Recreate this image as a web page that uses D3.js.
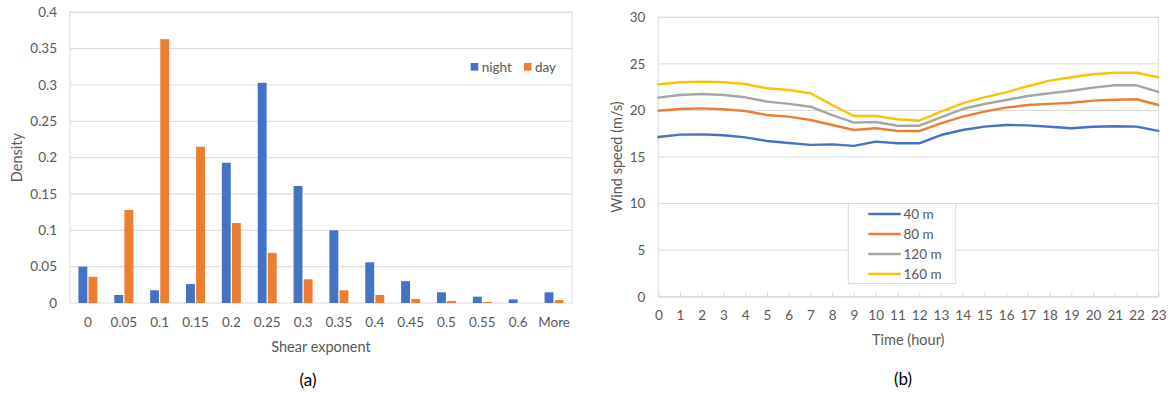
<!DOCTYPE html>
<html>
<head>
<meta charset="utf-8">
<script src="https://cdn.jsdelivr.net/npm/d3@7"></script>
<style>
  html, body { margin: 0; padding: 0; background: #fff; }
  svg { display: block; }
  text { font-family: Lato, "Open Sans", sans-serif; fill: #595959; }
</style>
</head>
<body>
<svg id="chart" width="1174" height="398"></svg>
<script>
// ---- (a) shear exponent histogram ----
const shearBins = ["0", "0.05", "0.1", "0.15", "0.2", "0.25", "0.3", "0.35", "0.4", "0.45", "0.5", "0.55", "0.6", "More"];
const nightDensity = [0.050, 0.011, 0.0175, 0.026, 0.193, 0.303, 0.161, 0.100, 0.056, 0.030, 0.0147, 0.0087, 0.005, 0.0147];
const dayDensity   = [0.036, 0.128, 0.363, 0.215, 0.110, 0.069, 0.0326, 0.0175, 0.011, 0.0055, 0.0028, 0.0014, 0, 0.004];
const densityTicks = [0, 0.05, 0.1, 0.15, 0.2, 0.25, 0.3, 0.35, 0.4];
const densityTickLabels = ["0", "0.05", "0.1", "0.15", "0.2", "0.25", "0.3", "0.35", "0.4"];
const periodNames = ["night", "day"];

// ---- (b) diurnal wind speed profile ----
const hours = d3.range(0, 24);
const heights = ["40 m", "80 m", "120 m", "160 m"];
const speed40  = [17.15, 17.40, 17.43, 17.33, 17.11, 16.72, 16.50, 16.30, 16.36, 16.20, 16.65, 16.47, 16.47, 17.36, 17.90, 18.26, 18.44, 18.40, 18.25, 18.08, 18.25, 18.30, 18.26, 17.80];
const speed80  = [19.97, 20.15, 20.22, 20.12, 19.94, 19.51, 19.33, 18.97, 18.44, 17.90, 18.08, 17.79, 17.79, 18.60, 19.33, 19.87, 20.30, 20.58, 20.70, 20.83, 21.05, 21.15, 21.20, 20.58];
const speed120 = [21.37, 21.66, 21.77, 21.66, 21.41, 20.94, 20.70, 20.40, 19.50, 18.69, 18.76, 18.36, 18.36, 19.26, 20.15, 20.69, 21.12, 21.55, 21.85, 22.12, 22.45, 22.70, 22.70, 22.00];
const speed160 = [22.80, 23.02, 23.09, 23.02, 22.84, 22.38, 22.20, 21.84, 20.58, 19.40, 19.40, 19.05, 18.90, 19.87, 20.76, 21.40, 21.94, 22.60, 23.20, 23.56, 23.88, 24.05, 24.05, 23.56];
const speedTicks = [0, 5, 10, 15, 20, 25, 30];

const svg = d3.select("#chart");
const gridColor = "#d9d9d9";
const barColors = { night: "#4472C4", day: "#ED7D31" };
const lineColors = ["#4472C4", "#ED7D31", "#A5A5A5", "#FFC000"];

// ================= panel (a) =================
{
  const left = 70, right = 572, top = 12.3, bottom = 303;
  const x = d3.scaleBand().domain(shearBins).range([left, right]).paddingInner(0.47).paddingOuter(0.235);
  const xSub = d3.scaleBand().domain(periodNames).range([0, x.bandwidth()]).paddingInner(0.12);
  const y = d3.scaleLinear().domain([0, 0.4]).range([bottom, top]);

  const g = svg.append("g");

  // gridlines
  g.append("g").selectAll("line").data(densityTicks.slice(1)).join("line")
    .attr("x1", left).attr("x2", right)
    .attr("y1", d => y(d)).attr("y2", d => y(d))
    .attr("stroke", gridColor).attr("stroke-width", 1);

  // frame
  g.append("rect").attr("x", left).attr("y", top).attr("width", right - left).attr("height", bottom - top)
    .attr("fill", "none").attr("stroke", gridColor).attr("stroke-width", 1);

  // bars
  const groups = g.append("g").selectAll("g").data(shearBins).join("g")
    .attr("transform", d => `translate(${x(d)},0)`);
  groups.selectAll("rect").data((d, i) => [
      { key: "night", v: nightDensity[i] },
      { key: "day", v: dayDensity[i] }
    ]).join("rect")
    .attr("x", d => xSub(d.key))
    .attr("width", xSub.bandwidth())
    .attr("y", d => y(d.v))
    .attr("height", d => y(0) - y(d.v))
    .attr("fill", d => barColors[d.key]);

  // y axis labels
  const yAxis = d3.axisLeft(y).tickValues(densityTicks)
    .tickFormat((d, i) => densityTickLabels[i]).tickSize(0).tickPadding(0);
  const ya = g.append("g").attr("transform", `translate(${left - 13},0)`).call(yAxis);
  ya.select(".domain").remove();
  ya.selectAll("text").attr("font-size", 13.5).attr("fill", "#595959").attr("font-family", "Lato, sans-serif");

  // x axis labels
  const xAxis = d3.axisBottom(x).tickSize(0).tickPadding(0);
  const xa = g.append("g").attr("transform", `translate(0,${bottom + 14.5})`).call(xAxis);
  xa.select(".domain").remove();
  xa.selectAll("text").attr("font-size", 13.5).attr("fill", "#595959").attr("font-family", "Lato, sans-serif");

  // axis titles
  g.append("text").attr("x", (left + right) / 2).attr("y", 352).attr("text-anchor", "middle")
    .attr("font-size", 14.5).text("Shear exponent");
  g.append("text").attr("transform", `translate(22,${(top + bottom) / 2}) rotate(-90)`)
    .attr("text-anchor", "middle").attr("font-size", 14.5).text("Density");

  // legend
  const lg = g.append("g");
  const legendX = [470.7, 524];
  periodNames.forEach((p, i) => {
    lg.append("rect").attr("x", legendX[i]).attr("y", 63).attr("width", 7.6).attr("height", 7.6)
      .attr("fill", barColors[p]);
    lg.append("text").attr("x", legendX[i] + 11).attr("y", 72).attr("font-size", 13.5).text(p);
  });

  // panel label
  svg.append("text").attr("x", 308).attr("y", 386).attr("text-anchor", "middle")
    .attr("font-family", "Liberation Sans, Arial, sans-serif").attr("font-size", 17)
    .style("fill", "#000").text("(a)");
}

// ================= panel (b) =================
{
  const left = 658.3, right = 1158.3, top = 17.3, bottom = 296.7;
  const x = d3.scaleLinear().domain([0, 23]).range([left, right]);
  const y = d3.scaleLinear().domain([0, 30]).range([bottom, top]);
  const g = svg.append("g");

  g.append("g").selectAll("line").data(speedTicks.slice(1)).join("line")
    .attr("x1", left).attr("x2", right)
    .attr("y1", d => y(d)).attr("y2", d => y(d))
    .attr("stroke", gridColor).attr("stroke-width", 1);

  g.append("rect").attr("x", left).attr("y", top).attr("width", right - left).attr("height", bottom - top)
    .attr("fill", "none").attr("stroke", gridColor).attr("stroke-width", 1);

  // x axis with short upward ticks
  const xAxis = d3.axisBottom(x).tickValues(hours).tickFormat(d3.format("d")).tickSize(-4).tickPadding(14);
  const xa = g.append("g").attr("transform", `translate(0,${bottom})`).call(xAxis);
  xa.select(".domain").attr("stroke", gridColor);
  xa.selectAll(".tick line").attr("stroke", gridColor);
  xa.selectAll("text").attr("font-size", 13.5).attr("fill", "#595959").attr("font-family", "Lato, sans-serif");

  const yAxis = d3.axisLeft(y).tickValues(speedTicks).tickSize(0).tickPadding(0);
  const ya = g.append("g").attr("transform", `translate(${left - 13},0)`).call(yAxis);
  ya.select(".domain").remove();
  ya.selectAll("text").attr("font-size", 13.5).attr("fill", "#595959").attr("font-family", "Lato, sans-serif");

  // lines
  const series = [speed40, speed80, speed120, speed160];
  const line = d3.line().x((d, i) => x(hours[i])).y(d => y(d));
  g.append("g").selectAll("path").data(series).join("path")
    .attr("d", line)
    .attr("fill", "none")
    .attr("stroke", (d, i) => lineColors[i])
    .attr("stroke-width", 2.4)
    .attr("stroke-linejoin", "round")
    .attr("stroke-linecap", "round");

  // axis titles
  g.append("text").attr("x", (left + right) / 2).attr("y", 345).attr("text-anchor", "middle")
    .attr("font-size", 14.5).text("Time (hour)");
  g.append("text").attr("transform", `translate(622,${(top + bottom) / 2}) rotate(-90)`)
    .attr("text-anchor", "middle").attr("font-size", 14.5).text("Wind speed (m/s)");

  // legend
  const lg = g.append("g");
  lg.append("rect").attr("x", 848.3).attr("y", 203.6).attr("width", 107.4).attr("height", 80)
    .attr("fill", "#fff").attr("stroke", gridColor).attr("stroke-width", 1);
  heights.forEach((h, i) => {
    const ly = 214 + i * 20;
    lg.append("line").attr("x1", 868.3).attr("x2", 900.7).attr("y1", ly).attr("y2", ly)
      .attr("stroke", lineColors[i]).attr("stroke-width", 2.4);
    lg.append("text").attr("x", 903.5).attr("y", ly + 4.8).attr("font-size", 13.5).text(h);
  });

  svg.append("text").attr("x", 903).attr("y", 385).attr("text-anchor", "middle")
    .attr("font-family", "Liberation Sans, Arial, sans-serif").attr("font-size", 17)
    .style("fill", "#000").text("(b)");
}
</script>
</body>
</html>
